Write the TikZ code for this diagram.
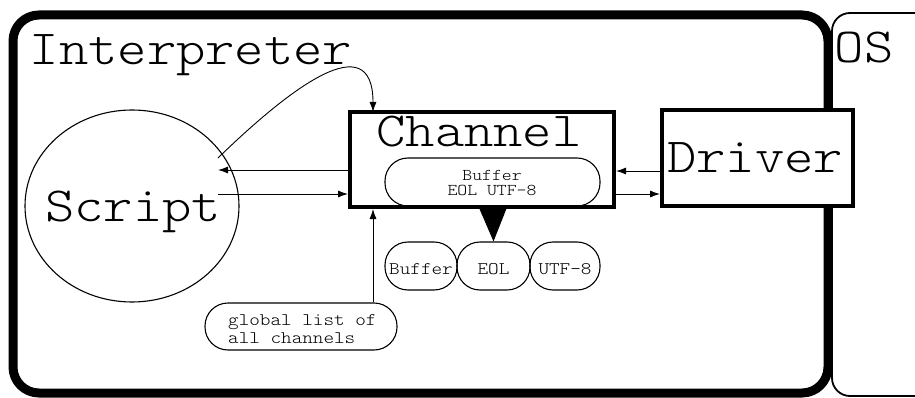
\documentclass[tikz,border=0pt]{standalone}
\usepackage{fontspec}
\newfontfamily\courlike[FakeStretch=1.14]{Latin Modern Mono Light}
\usetikzlibrary{arrows.meta,shapes.geometric}
\tikzset{
  big/.style={font=\courlike\fontsize{49}{50}\selectfont, inner sep=0pt, anchor=base},
  small/.style={font=\courlike\fontsize{17.7}{18}\selectfont, inner sep=0pt, anchor=base},
  tiny/.style={font=\courlike\fontsize{16.5}{17}\selectfont, inner sep=0pt, anchor=base},
  thickbox/.style={draw, fill=white, line width=4pt, inner sep=0pt},
  pill/.style={draw, line width=1.1pt, rounded corners=23pt},
  conn/.style={line width=0.9pt, -{Latex[length=10pt,width=7pt]}},
}
\begin{document}
\begin{tikzpicture}[x=1pt,y=-1pt]
\clip (0,0) rectangle (915,398);
\fill[white] (0,0) rectangle (915,398);

% frames of the two domains
\draw[line width=1.8pt, rounded corners=18pt] (832,13) rectangle (960,396);
\draw[line width=9pt, rounded corners=26pt] (13,15) rectangle (828,393);
\node[big] (interp) at (191,65) {Interpreter};
\node[big] (os) at (864,63) {OS};

% script
\node[draw, line width=1.1pt, ellipse, minimum width=214pt, minimum height=192pt, inner sep=0pt] (script) at (132,206) {};
\node[big] (scripttxt) at (133,222) {Script};

% channel with its buffer stack
\node[thickbox, minimum width=264pt, minimum height=95pt] (chan) at (482,159.5) {};
\node[big] (chantxt) at (479,147) {Channel};
\draw[pill] (385,158) rectangle (600,206);
\node[tiny] (stack1) at (492,181) {Buffer};
\node[tiny] (stack2) at (492,196) {EOL UTF-8};

% driver
\node[thickbox, minimum width=191pt, minimum height=96pt] (drv) at (757.5,158) {};
\node[big] (drvtxt) at (755,173) {Driver};

% channel components
\node[pill, draw, minimum width=72pt, minimum height=48pt, inner sep=0pt] (buf) at (421,266) {};
\node[pill, draw, minimum width=73pt, minimum height=48pt, inner sep=0pt] (eol) at (493.5,266) {};
\node[pill, draw, minimum width=70pt, minimum height=48pt, inner sep=0pt] (utf) at (565,266) {};
\node[small] at (421,274) {Buffer};
\node[small] at (493.5,274) {EOL};
\node[small] at (565,274) {UTF-8};

% global channel list
\node[pill, draw, minimum width=192pt, minimum height=47pt, inner sep=0pt] (glist) at (301,326.5) {};
\node[small, anchor=base west] (gl1) at (228,325) {global list of};
\node[small, anchor=base west] (gl2) at (228,343) {all channels};

% connectors
\coordinate (sA) at (218,158);
\coordinate (sB) at (218,170);
\coordinate (sC) at (218,194);
\coordinate (cTop) at (373,112);
\draw[conn] (sA) .. controls (290,88) and (373,25) .. (cTop);
\draw[conn] (chan.west |- sB) -- (sB);
\draw[conn] (sC) -- (chan.west |- sC);
\draw[conn] (drv.west |- 0,171) -- (chan.east |- 0,171);
\draw[conn] (chan.east |- 0,194) -- (drv.west |- 0,194);
\draw[conn] (glist.north -| 373,0) -- (chan.south -| 373,0);
\draw[line width=1pt, -{Triangle[length=33pt,width=27pt]}] (chan.south -| 493,0) -- (eol.north);
\end{tikzpicture}
\end{document}
